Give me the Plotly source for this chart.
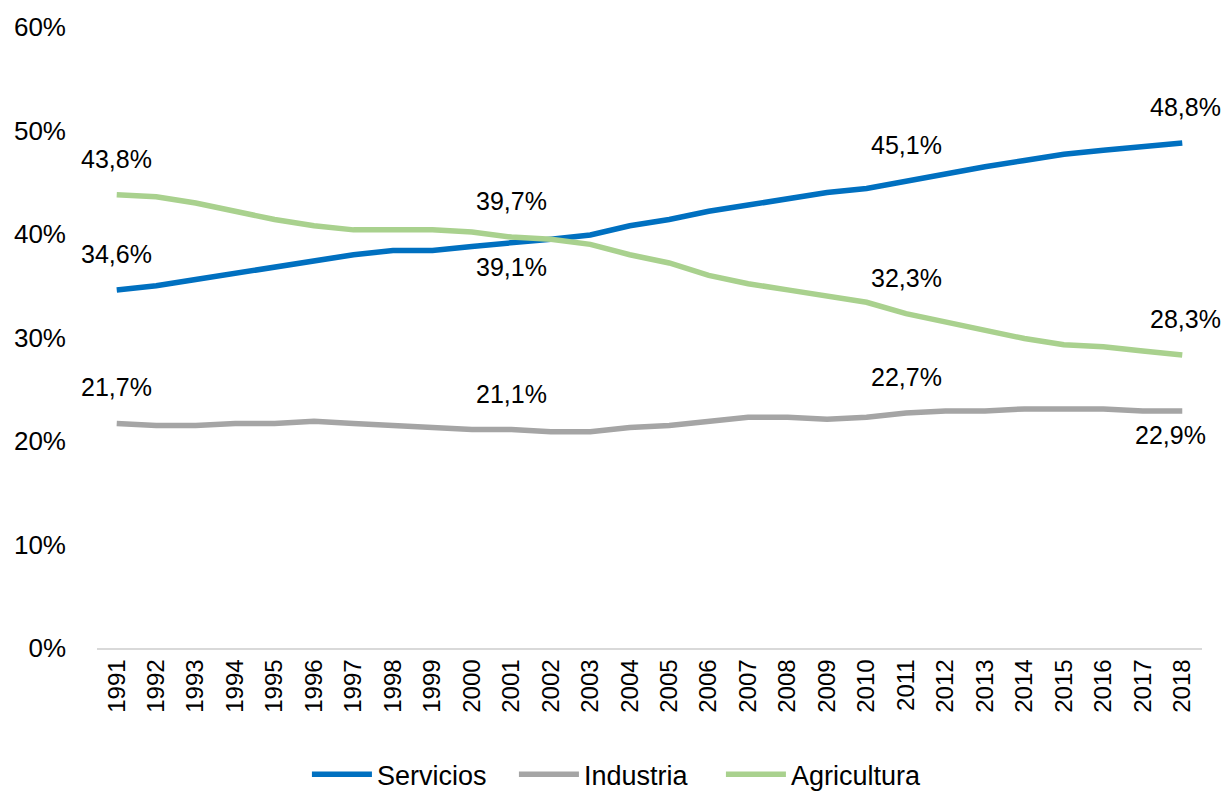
import plotly.graph_objects as go

# data (percent of employment)
years = [str(y) for y in range(1991, 2019)]
servicios = [34.6, 35.0, 35.6, 36.2, 36.8, 37.4, 38.0, 38.4, 38.4, 38.8,
             39.1, 39.5, 39.9, 40.8, 41.4, 42.2, 42.8, 43.4, 44.0, 44.4,
             45.1, 45.9, 46.5, 47.1, 47.7, 48.1, 48.5, 48.8]
industria = [21.7, 21.5, 21.5, 21.7, 21.7, 21.9, 21.7, 21.5, 21.3, 21.1,
             21.1, 20.9, 20.9, 21.3, 21.5, 21.9, 22.3, 22.3, 22.1, 22.3,
             22.7, 22.9, 22.9, 23.1, 23.1, 23.1, 22.9, 22.9]
agricultura = [43.8, 43.6, 43.0, 42.2, 41.4, 40.8, 40.4, 40.4, 40.4, 40.2,
               39.7, 39.5, 39.0, 38.0, 37.2, 36.0, 35.2, 34.6, 34.0, 33.4,
               32.3, 31.5, 30.7, 29.9, 29.3, 29.1, 28.7, 28.3]

labeled_years = ["1991", "2001", "2011", "2018"]
# which labels sit below the line instead of above
below = {("Servicios", "2001"), ("Industria", "2018")}

series = [
    ("Servicios", servicios, "#0070C0"),
    ("Industria", industria, "#A5A5A5"),
    ("Agricultura", agricultura, "#A9D18E"),
]

FONT = "Liberation Sans"

fig = go.Figure()
annotations = []
for name, vals, color in series:
    fig.add_trace(go.Scatter(
        x=years, y=[v / 100 for v in vals], name=name, mode="lines",
        line=dict(color=color, width=5.5), hoverinfo="skip",
    ))
    for yr in labeled_years:
        i = years.index(yr)
        v = vals[i]
        dn = (name, yr) in below
        xs = 0
        if yr == "2018":
            xs = -12 if dn else 3
        # category axis: position annotations by category index
        annotations.append(dict(
            x=i, y=v / 100, text=f"{v:.1f}%".replace(".", ","),
            showarrow=False, yshift=-24 if dn else 36, xshift=xs,
            font=dict(family=FONT, size=25, color="#000000"),
        ))

# the page body adds an 8px margin on each side, so keep the figure
# 16px smaller than the window to avoid overflow
fig.update_layout(
    width=1214, height=784,
    margin=dict(l=89, r=20, t=19, b=144),
    paper_bgcolor="white", plot_bgcolor="white",
    font=dict(family=FONT, size=24, color="#000000"),
    annotations=annotations,
    showlegend=True,
    # container ref so the legend does not shrink the plot area
    legend=dict(orientation="h", x=0.502, xanchor="center",
                xref="container", yref="container",
                y=0.022, yanchor="middle", font=dict(family=FONT, size=27),
                itemwidth=60, entrywidth=132, tracegroupgap=0),
)
fig.update_xaxes(
    type="category", tickangle=-90, showgrid=False, automargin=False,
    range=[-0.5, len(years) - 0.5],
    showline=True, linecolor="#D9D9D9", linewidth=1.5,
    ticks="", tickfont=dict(size=24),
)
fig.update_yaxes(
    range=[0, 0.6], dtick=0.1, tickformat=".0%", showgrid=False,
    automargin=False, zeroline=False, showline=False, ticks="",
    ticklabelstandoff=30, tickfont=dict(size=26),
)

fig.write_html("out.html")
